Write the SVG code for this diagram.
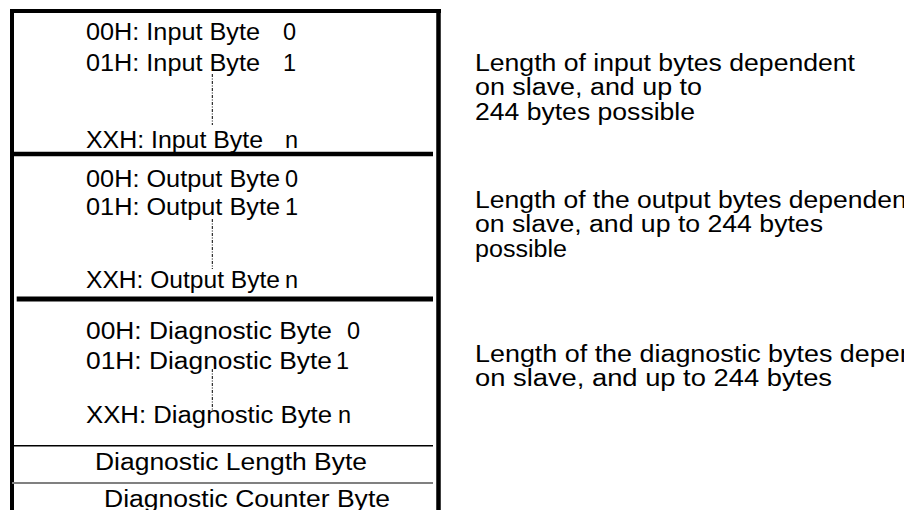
<svg xmlns="http://www.w3.org/2000/svg" width="904" height="510" viewBox="0 0 904 510">
<style>
text{font-family:"Liberation Sans",Arial,sans-serif;font-size:23.5px;fill:#000}
.frame{stroke:#000;fill:none}
.dots{stroke:#000;stroke-width:1;stroke-dasharray:3 1.5 1 1.5;fill:none}
</style>
<rect width="904" height="510" fill="#fff"/>
<g id="frame">
<line class="frame" x1="12" y1="9" x2="12" y2="510" stroke-width="4"/>
<line class="frame" x1="10" y1="11" x2="441" y2="11" stroke-width="4"/>
<line class="frame" x1="438.5" y1="9" x2="438.5" y2="510" stroke-width="4.5"/>
<line class="frame" x1="10" y1="154" x2="433" y2="154" stroke-width="4.5"/>
<line class="frame" x1="16.7" y1="299" x2="433" y2="299" stroke-width="5"/>
<line class="frame" x1="12" y1="445.7" x2="433" y2="445.7" stroke-width="1.5"/>
<line x1="12" y1="483" x2="433" y2="483" stroke="#808080" stroke-width="2"/>
</g>
<g id="input-block">
<text x="86" y="40" textLength="174" lengthAdjust="spacingAndGlyphs">00H: Input Byte</text><text x="283" y="40">0</text>
<text x="86" y="70.5" textLength="174" lengthAdjust="spacingAndGlyphs">01H: Input Byte</text><text x="283" y="70.5">1</text>
<text x="86" y="148.3" textLength="177" lengthAdjust="spacingAndGlyphs">XXH: Input Byte</text><text x="285" y="148.3">n</text>
</g>
<g id="output-block">
<text x="86" y="186.7" textLength="194" lengthAdjust="spacingAndGlyphs">00H: Output Byte</text><text x="285" y="186.7">0</text>
<text x="86" y="215" textLength="194" lengthAdjust="spacingAndGlyphs">01H: Output Byte</text><text x="285" y="215">1</text>
<text x="86" y="288.3" textLength="194" lengthAdjust="spacingAndGlyphs">XXH: Output Byte</text><text x="285" y="288.3">n</text>
</g>
<g id="diagnostic-block">
<text x="86" y="339.3" textLength="246" lengthAdjust="spacingAndGlyphs">00H: Diagnostic Byte</text><text x="347" y="339.3">0</text>
<text x="86" y="369.3" textLength="246" lengthAdjust="spacingAndGlyphs">01H: Diagnostic Byte</text><text x="336" y="369.3">1</text>
<text x="86" y="422.7" textLength="246" lengthAdjust="spacingAndGlyphs">XXH: Diagnostic Byte</text><text x="338" y="422.7">n</text>
</g>
<g id="diagnostic-length">
<text x="95" y="470" textLength="272" lengthAdjust="spacingAndGlyphs">Diagnostic Length Byte</text>
</g>
<g id="diagnostic-counter">
<text x="104" y="506.7" textLength="286" lengthAdjust="spacingAndGlyphs">Diagnostic Counter Byte</text>
</g>
<g id="input-note">
<text x="475" y="71" textLength="380" lengthAdjust="spacingAndGlyphs">Length of input bytes dependent</text>
<text x="475" y="95.3" textLength="227" lengthAdjust="spacingAndGlyphs">on slave, and up to</text>
<text x="475" y="119.6" textLength="220" lengthAdjust="spacingAndGlyphs">244 bytes possible</text>
</g>
<g id="output-note">
<text x="475" y="207.5" textLength="439" lengthAdjust="spacingAndGlyphs">Length of the output bytes dependent</text>
<text x="475" y="232" textLength="348" lengthAdjust="spacingAndGlyphs">on slave, and up to 244 bytes</text>
<text x="475" y="256.5" textLength="92" lengthAdjust="spacingAndGlyphs">possible</text>
</g>
<g id="diagnostic-note">
<text x="475" y="362" textLength="492" lengthAdjust="spacingAndGlyphs">Length of the diagnostic bytes dependent</text>
<text x="475" y="386.3" textLength="357" lengthAdjust="spacingAndGlyphs">on slave, and up to  244 bytes</text>
</g>
<g id="connectors">
<line class="dots" x1="212.3" y1="74" x2="212.3" y2="125"/>
<line class="dots" x1="212.3" y1="219" x2="212.3" y2="269"/>
<line class="dots" x1="212.3" y1="369" x2="212.3" y2="410"/>
</g>
</svg>
